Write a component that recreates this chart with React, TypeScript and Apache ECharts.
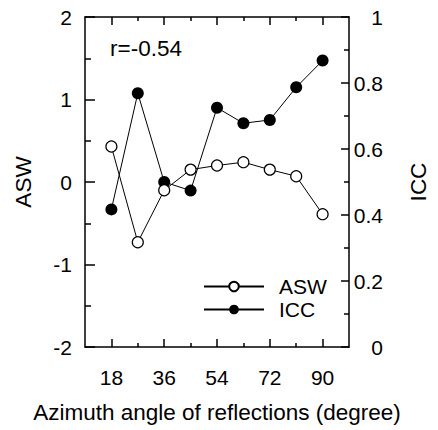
import React, { useEffect, useRef } from "react";
import * as echarts from "echarts";

const angles = [18, 27, 36, 45, 54, 63, 72, 81, 90];
const aswValues = [0.43, -0.73, -0.1, 0.15, 0.2, 0.24, 0.15, 0.07, -0.39];
const iccValues = [0.417, 0.769, 0.5, 0.474, 0.725, 0.678, 0.688, 0.787, 0.868];
const majorX = [18, 36, 54, 72, 90];
const minorX = [27, 45, 63, 81];
const corrText = "r=-0.54";

const FONT = "Liberation Sans, Arial, Helvetica, sans-serif";
const FS = 21;
const FT = 22.5;
const BLACK = "#000";

export default function App() {
  const ref = useRef<HTMLDivElement>(null);
  useEffect(() => {
    if (!ref.current) return;
    const chart = echarts.init(ref.current, undefined, { renderer: "svg" });
    const baseX = {
      type: "value" as const,
      min: 9,
      max: 99,
      splitLine: { show: false },
    };
    const line = { color: BLACK, width: 1.5 };
    chart.setOption({
      animation: false,
      backgroundColor: "#fff",
      textStyle: { fontFamily: FONT, color: BLACK },
      grid: { left: 85, right: 82, top: 17, bottom: 83 },
      graphic: [
        {
          type: "text",
          left: 110,
          top: 37,
          style: { text: corrText, font: `${FT}px ${FONT}`, fill: BLACK },
        },
      ],
      legend: {
        orient: "vertical",
        left: 198,
        top: 271,
        itemWidth: 60,
        itemHeight: 12,
        itemGap: 2,
        textStyle: { fontSize: FS, fontFamily: FONT, color: BLACK, padding: [0, 0, 0, 10] },
        data: ["ASW", "ICC"],
      },
      xAxis: [
        {
          ...baseX,
          position: "bottom",
          name: "Azimuth angle of reflections (degree)",
          nameLocation: "middle",
          nameGap: 54,
          nameTextStyle: { fontSize: FT, fontFamily: FONT, color: BLACK },
          axisLine: { show: true, onZero: false, lineStyle: line },
          axisTick: { show: true, inside: true, length: 8, customValues: majorX, lineStyle: line },
          axisLabel: { show: true, customValues: majorX, margin: 20, fontSize: FS, fontFamily: FONT, color: BLACK },
        },
        {
          ...baseX,
          position: "bottom",
          axisLine: { show: false, onZero: false },
          axisTick: { show: true, inside: true, length: 4, customValues: minorX, lineStyle: line },
          axisLabel: { show: false },
        },
        {
          ...baseX,
          position: "top",
          axisLine: { show: true, onZero: false, lineStyle: line },
          axisTick: { show: true, inside: true, length: 8, customValues: majorX, lineStyle: line },
          axisLabel: { show: false },
        },
        {
          ...baseX,
          position: "top",
          axisLine: { show: false, onZero: false },
          axisTick: { show: true, inside: true, length: 4, customValues: minorX, lineStyle: line },
          axisLabel: { show: false },
        },
      ],
      yAxis: [
        {
          type: "value",
          position: "left",
          min: -2,
          max: 2,
          interval: 1,
          name: "ASW",
          nameLocation: "middle",
          nameGap: 50,
          nameRotate: 90,
          nameTextStyle: { fontSize: FT, fontFamily: FONT, color: BLACK },
          splitLine: { show: false },
          axisLine: { show: true, onZero: false, lineStyle: line },
          axisTick: { show: true, inside: true, length: 10, lineStyle: line },
          minorTick: { show: true, splitNumber: 2, length: 6, lineStyle: line },
          axisLabel: { margin: 13, fontSize: FS, fontFamily: FONT, color: BLACK },
        },
        {
          type: "value",
          position: "right",
          min: 0,
          max: 1,
          interval: 0.2,
          name: "ICC",
          nameLocation: "middle",
          nameGap: 58,
          nameRotate: 90,
          nameTextStyle: { fontSize: FT, fontFamily: FONT, color: BLACK },
          splitLine: { show: false },
          axisLine: { show: true, onZero: false, lineStyle: line },
          axisTick: { show: true, inside: true, length: 8, lineStyle: line },
          minorTick: { show: true, splitNumber: 2, length: 5, lineStyle: line },
          axisLabel: {
            margin: 34,
            align: "right",
            fontSize: FS,
            fontFamily: FONT,
            color: BLACK,
            formatter: (v: number) => String(Math.round(v * 10) / 10),
          },
        },
      ],
      series: [
        {
          name: "ICC",
          type: "line",
          xAxisIndex: 0,
          yAxisIndex: 1,
          data: angles.map((a, i) => [a, iccValues[i]]),
          symbol: "circle",
          symbolSize: 12,
          itemStyle: { color: BLACK },
          lineStyle: { color: BLACK, width: 1 },
          z: 3,
        },
        {
          name: "ASW",
          type: "line",
          xAxisIndex: 0,
          yAxisIndex: 0,
          data: angles.map((a, i) => [a, aswValues[i]]),
          symbol: "circle",
          symbolSize: 11,
          itemStyle: { color: "#fff", borderColor: BLACK, borderWidth: 1.2 },
          lineStyle: { color: BLACK, width: 1 },
          z: 4,
        },
      ],
    });
    return () => chart.dispose();
  }, []);
  return <div ref={ref} style={{ width: 438, height: 430, position: "absolute", left: 0, top: 0 }} />;
}
